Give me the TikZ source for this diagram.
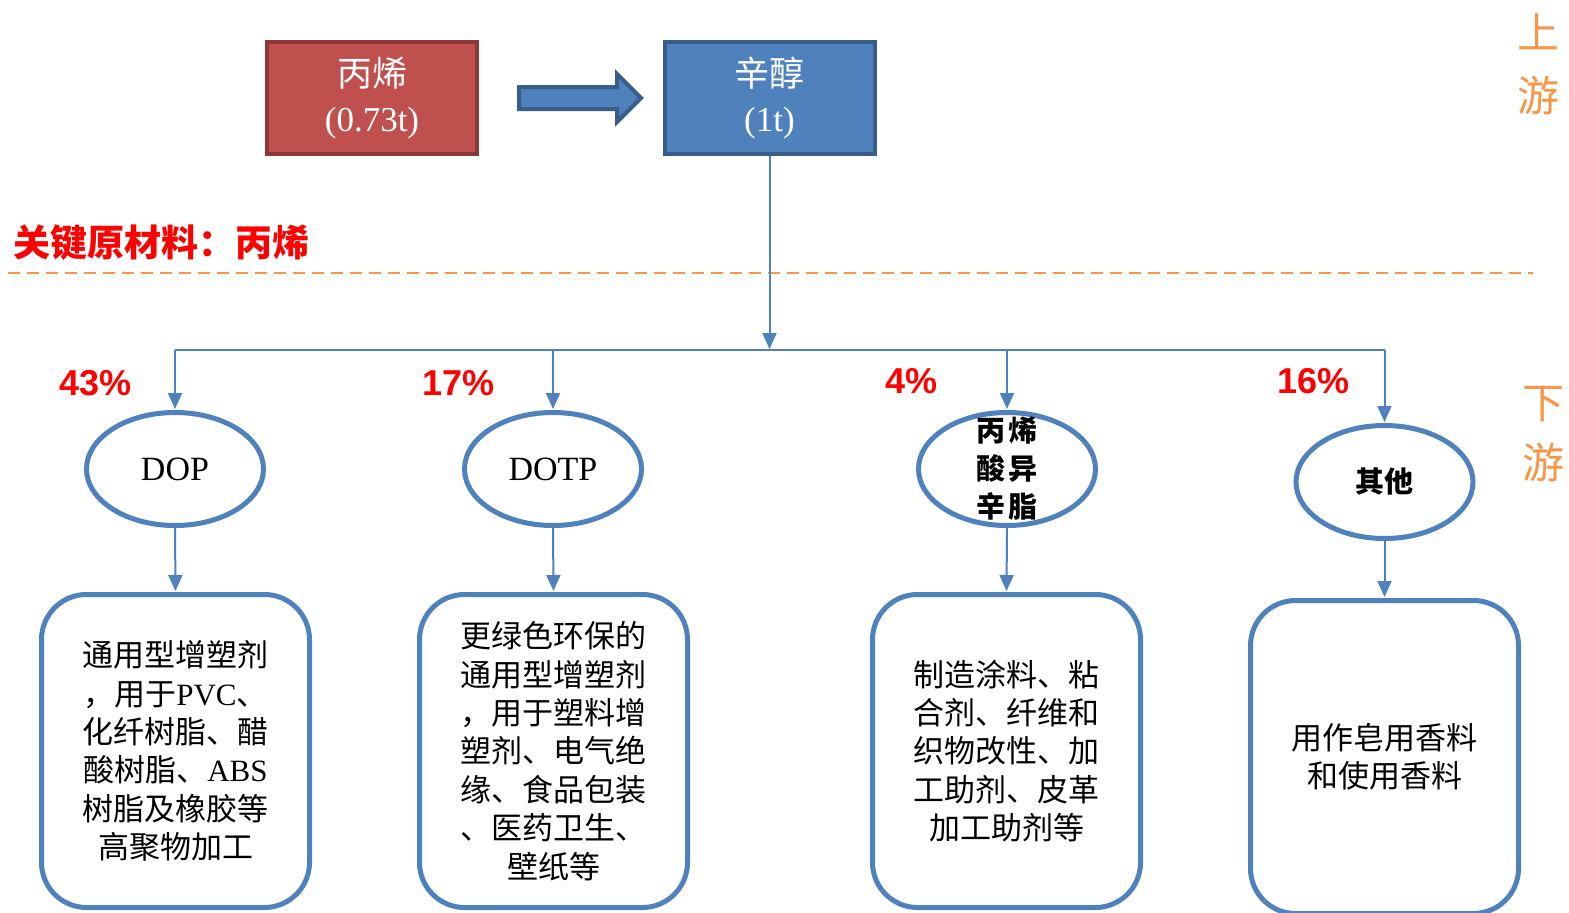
\documentclass[tikz,border=0pt]{standalone}
\usepackage{fontspec}
\setmainfont{Liberation Serif}
\newfontfamily\cj{Noto Sans CJK SC}
\newfontfamily\lsans{Liberation Sans}
\usetikzlibrary{arrows.meta,shapes.geometric}
\definecolor{accent}{HTML}{4F81BD}
\definecolor{accentdark}{HTML}{385D8A}
\definecolor{brick}{HTML}{C0504D}
\definecolor{brickdark}{HTML}{8C3836}
\definecolor{amber}{HTML}{F79646}
\definecolor{hotred}{HTML}{FF0000}

\begin{document}
\begin{tikzpicture}[x=1pt,y=-1pt,
  topbox/.style={minimum width=210pt, minimum height=112pt, line width=4pt,
    text=white, align=center, inner sep=0pt, font=\fontsize{35}{45}\selectfont},
  conn/.style={draw=accent, line width=2pt},
  tip/.style={-{Triangle[length=16pt,width=14pt]}, shorten >=1pt},
  prod/.style={ellipse, draw=accent, line width=5pt, minimum width=177pt,
    minimum height=113pt, inner sep=0pt, align=center},
  usebox/.style={draw=accent, line width=5pt, rounded corners=45pt,
    minimum width=268pt, minimum height=313pt, inner sep=0pt, align=center,
    font=\cj\fontsize{31}{38.4}\selectfont},
  pct/.style={text=hotred, font=\lsans\bfseries\fontsize{36}{40}\selectfont},
  stage/.style={text=amber, font=\cj\fontsize{42}{48}\selectfont}
]
\useasboundingbox (0,0) rectangle (1569,913);
\fill[white] (0,0) rectangle (1569,913);

% upstream: feedstock and product
\node[topbox, fill=brick, draw=brickdark] (feed) at (372,98)
  {{\cj 丙烯}\\(0.73t)};
\node[topbox, fill=accent, draw=accentdark] (core) at (769.5,98)
  {{\cj 辛醇}\\(1t)};

% block arrow between the two boxes
\filldraw[fill=accent, draw=accentdark, line width=4pt, line join=miter]
  (519,87) -- (617,87) -- (617,74) -- (641,98) -- (617,122) -- (617,109)
  -- (519,109) -- cycle;

% key raw material and the divider
\node[anchor=west, text=hotred, font=\cj\bfseries\fontsize{37}{40}\selectfont]
  (keymat) at (10,243) {关键原材料：丙烯};
\draw[amber, line width=2pt, dash pattern=on 12pt off 7pt] (8,273) -- (1533,273);

% stage labels
\node[stage] (up1) at (1538,32) {上};
\node[stage] (up2) at (1538,96) {游};
\node[stage] (dn1) at (1543,404) {下};
\node[stage] (dn2) at (1543,463) {游};

% shares
\node[pct] (p1) at (95.5,383) {43\%};
\node[pct] (p2) at (458.5,383) {17\%};
\node[pct] (p3) at (911.5,381) {4\%};
\node[pct] (p4) at (1313.5,381) {16\%};

% downstream products
\node[prod, font=\fontsize{34}{40}\selectfont] (e1) at (175,469) {DOP};
\node[prod, font=\fontsize{34}{40}\selectfont] (e2) at (553,469) {DOTP};
\node[prod, inner sep=-22pt, font=\cj\bfseries\fontsize{29}{38}\selectfont] (e3) at (1007,469)
  {丙\hspace{4pt}烯\\酸\hspace{4pt}异\\辛\hspace{4pt}脂};
\node[prod, font=\cj\bfseries\fontsize{29}{38}\selectfont] (e4) at (1384.5,482) {其他};

% applications
\node[usebox] (u1) at (175.5,751)
  {通用型增塑剂\\，用于{\rmfamily PVC}、\\化纤树脂、醋\\酸树脂、{\rmfamily ABS}\\树脂及橡胶等\\高聚物加工};
\node[usebox] (u2) at (553.5,751)
  {更绿色环保的\\通用型增塑剂\\，用于塑料增\\塑剂、电气绝\\缘、食品包装\\、医药卫生、\\壁纸等};
\node[usebox] (u3) at (1006.5,751)
  {制造涂料、粘\\合剂、纤维和\\织物改性、加\\工助剂、皮革\\加工助剂等};
\node[usebox] (u4) at (1384.5,757)
  {用作皂用香料\\和使用香料};

% distribution lines
\coordinate (hub) at (769.5,350);
\coordinate (j1) at (175,350);
\coordinate (j2) at (553,350);
\coordinate (j3) at (1007,350);
\coordinate (j4) at (1384.5,350);
\draw[conn] (j1) -- (j4);
\draw[conn, tip] (core.south) -- (hub);
\foreach \i in {1,2,3,4} {
  \draw[conn, tip] (j\i) -- (e\i.north);
  \draw[conn, tip] (e\i.south) -- (u\i.north);
}
\end{tikzpicture}
\end{document}
